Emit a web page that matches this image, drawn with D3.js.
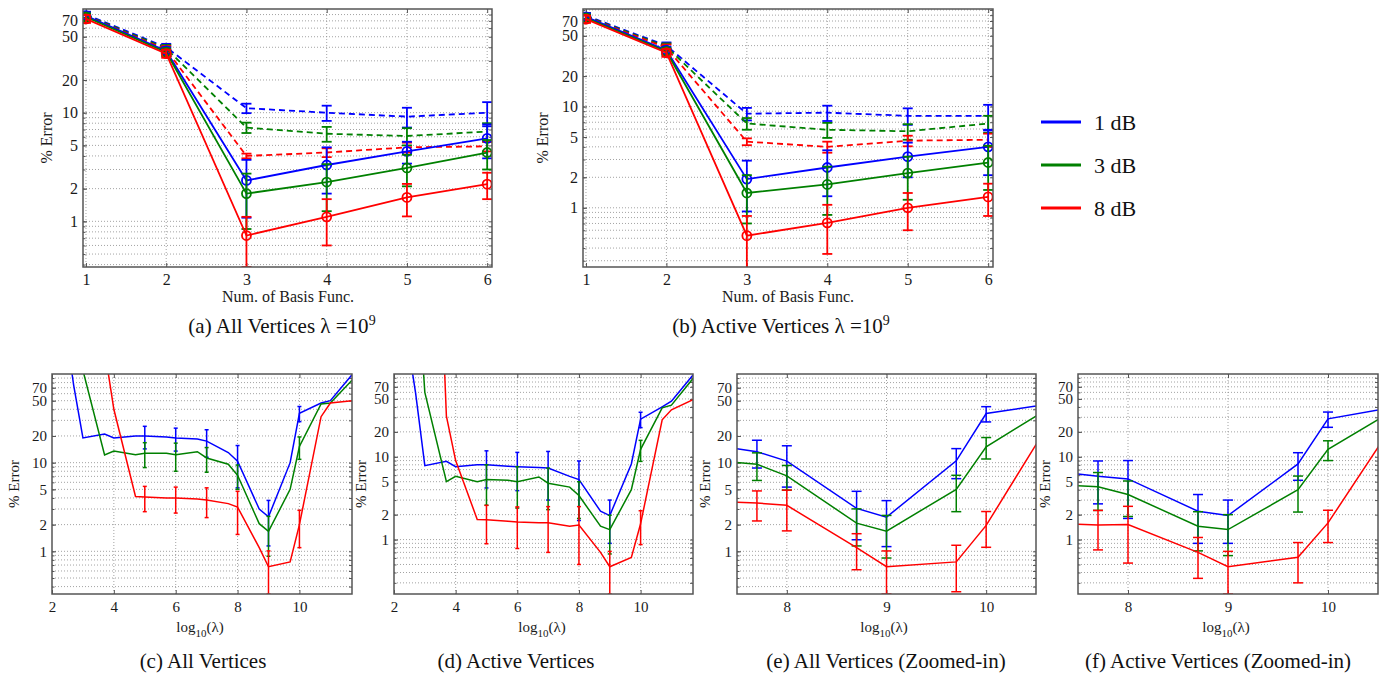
<!DOCTYPE html>
<html>
<head>
<meta charset="utf-8">
<script src="https://cdn.jsdelivr.net/npm/d3@7/dist/d3.min.js"></script>
<style>
  body { margin: 0; background: #fff; }
  svg, svg text { font-family: "Liberation Serif", "Times New Roman", serif; }
</style>
</head>
<body>
<svg id="fig" width="1391" height="676"></svg>
<script>
// ---- data ----
const snrLabels = ["1 dB", "3 dB", "8 dB"];
const yTickVals = [1, 2, 5, 10, 20, 50, 70];

// top row: error vs number of basis functions (solid / dashed), lambda = 1e9
const basisN = [1, 2, 3, 4, 5, 6];
const aBlue    = [78, 37, 2.38, 3.3, 4.4, 5.8];
const aBlueE   = [6, 3, 1.3, 1.5, 1.0, 2.0];
const aGreen   = [76, 36, 1.8, 2.3, 3.1, 4.3];
const aGreenE  = [6, 3, 0.95, 1.06, 1.0, 1.3];
const aRed     = [73, 35, 0.74, 1.1, 1.66, 2.2];
const aRedE    = [6, 3, 0.36, 0.5, 0.55, 0.6];
const aBlueD   = [80, 40, 11, 10, 9.2, 10];
const aBlueDE  = [5, 3, 1.1, 1.6, 1.9, 2.5];
const aGreenD  = [79, 39, 7.3, 6.4, 6.1, 6.7];
const aGreenDE = [5, 3, 0.8, 1.0, 1.1, 1.3];
const aRedD    = [78, 38, 4.0, 4.3, 4.8, 4.9];
const aRedDE   = [5, 3, 0.2, 0.4, 0.5, 0.5];

const bBlue    = [77, 36, 1.92, 2.5, 3.2, 4.0];
const bBlueE   = [6, 3, 1.0, 1.2, 1.2, 1.9];
const bGreen   = [75, 35, 1.4, 1.7, 2.2, 2.8];
const bGreenE  = [6, 3, 0.7, 0.85, 1.0, 1.3];
const bRed     = [73, 34, 0.53, 0.71, 1.0, 1.28];
const bRedE    = [6, 3, 0.3, 0.36, 0.4, 0.45];
const bBlueD   = [79, 40, 8.5, 8.7, 8.1, 8.1];
const bBlueDE  = [5, 3, 1.2, 1.5, 1.5, 2.3];
const bGreenD  = [78, 39, 6.8, 5.9, 5.7, 6.8];
const bGreenDE = [5, 3, 0.9, 1.0, 1.0, 1.3];
const bRedD    = [77, 38, 4.5, 4.0, 4.6, 4.7];
const bRedDE   = [5, 3, 0.35, 0.5, 0.55, 0.7];

// bottom row: error vs log10(lambda)
const lamAll = [2, 2.7, 3, 3.7, 4, 4.7, 5, 5.7, 6, 6.7, 7, 7.7, 8, 8.7, 9, 9.7, 10, 10.7, 11, 11.7];
const errLam = [5, 6, 7, 8, 9, 10];
const cBlue  = [4000, 75, 19, 21, 19, 20, 20, 19.5, 19, 18.5, 17.5, 13, 10.4, 3, 2.45, 10, 36, 47, 50, 98];
const cGreen = [1e5, 3000, 110, 12.2, 13.5, 12.3, 12.8, 12.8, 12.3, 13.3, 11.3, 9.6, 7.2, 2.05, 1.68, 5.0, 15.2, 46, 47, 85];
const cRed   = [1e10, 1e9, 1e4, 190, 40, 4.15, 4.1, 4.0, 4.0, 3.9, 3.8, 3.45, 3.15, 1.1, 0.67, 0.76, 2.0, 33, 47, 50];
const cBlueE  = [5.7, 5.5, 6, 5.2, 1.3, 7];
const cGreenE = [4, 4.3, 3.5, 2.2, 0.8, 4.3];
const cRedE   = [1.3, 1.3, 1.4, 1.6, 0.34, 0.9];

const dBlue  = [3000, 59, 7.8, 8.8, 7.6, 8.0, 8.0, 7.7, 7.6, 7.4, 7.3, 5.8, 5.3, 2.2, 1.95, 8.2, 28.5, 40, 47, 97];
const dGreen = [1e5, 3000, 60, 5.0, 5.8, 5.0, 5.3, 5.2, 5.0, 5.7, 4.8, 4.3, 3.4, 1.45, 1.32, 4.0, 12.3, 39, 42, 88];
const dRed   = [1e10, 1e9, 1e8, 31, 9, 1.75, 1.74, 1.66, 1.63, 1.6, 1.6, 1.45, 1.5, 0.7, 0.47, 0.61, 1.55, 28, 37, 49];
const dBlueE  = [3.8, 3.7, 4.3, 3.6, 1.05, 6];
const dGreenE = [2.7, 2.6, 2.5, 1.6, 0.65, 3.5];
const dRedE   = [0.85, 0.85, 0.9, 1.0, 0.25, 0.68];

const lamZoom = [7, 7.7, 8, 8.7, 9, 9.7, 10, 10.7];
const errLamZoom = [7.7, 8, 8.7, 9, 9.7, 10];
const eBlue  = [17.5, 13.3, 10.4, 3.05, 2.43, 10.5, 35.8, 47];
const eGreen = [11.3, 9.6, 7.1, 2.08, 1.69, 5.0, 15.1, 46];
const eRed   = [3.8, 3.5, 3.3, 1.1, 0.67, 0.76, 1.96, 37];
const eBlueE  = [4.6, 5.1, 1.7, 1.3, 3.9, 7];
const eGreenE = [3.3, 2.2, 0.93, 0.85, 2.2, 4.1];
const eRedE   = [1.3, 1.6, 0.48, 0.34, 0.41, 0.85];

const fBlue  = [7.3, 5.8, 5.4, 2.2, 1.95, 8.2, 28.7, 40.6];
const fGreen = [4.8, 4.35, 3.5, 1.45, 1.32, 4.0, 12.3, 39];
const fRed   = [1.6, 1.5, 1.52, 0.7, 0.47, 0.61, 1.59, 30];
const fBlueE  = [3.1, 3.6, 1.3, 1.05, 3.0, 6];
const fGreenE = [2.1, 1.6, 0.72, 0.68, 1.85, 3.3];
const fRedE   = [0.75, 1.0, 0.36, 0.25, 0.31, 0.67];

// ---- drawing ----
const SERIF = "Liberation Serif, Times New Roman, serif";
const BLUE = "#0000ff", GREEN = "#008000", RED = "#ff0000";
const colors = [BLUE, GREEN, RED];
const svg = d3.select("#fig").attr("font-family", SERIF);

function panel(p) {
  const x = d3.scaleLinear().domain(p.xDom).range([p.left, p.right]);
  const y = d3.scaleLog().domain(p.yDom).range([p.bottom, p.top]);
  const g = svg.append("g").attr("font-family", SERIF);
  const cid = "clip-" + p.name;
  g.append("clipPath").attr("id", cid).append("rect")
    .attr("x", p.left).attr("y", p.top)
    .attr("width", p.right - p.left).attr("height", p.bottom - p.top);

  // minor values 1..9 x 10^k inside the domain
  const minor = [];
  [0.1, 1, 10].forEach(k => d3.range(1, 10).forEach(m => {
    const v = +(m * k).toPrecision(3);
    if (v > p.yDom[0] && v < p.yDom[1]) minor.push(v);
  }));

  // dotted grid
  g.append("g").selectAll("line").data(minor).join("line")
    .attr("x1", p.left).attr("x2", p.right)
    .attr("y1", d => y(d)).attr("y2", d => y(d))
    .attr("stroke", "#8c8c8c").attr("stroke-width", 0.8).attr("stroke-dasharray", "1,2");
  g.append("g").selectAll("line")
    .data(p.xTicks.filter(t => x(t) > p.left + 1 && x(t) < p.right - 1)).join("line")
    .attr("x1", d => x(d)).attr("x2", d => x(d))
    .attr("y1", p.top).attr("y2", p.bottom)
    .attr("stroke", "#8c8c8c").attr("stroke-width", 0.8).attr("stroke-dasharray", "1,2");

  // axes with inward ticks
  const yAx = g.append("g").attr("transform", `translate(${p.left},0)`)
    .call(d3.axisLeft(y).tickValues(yTickVals).tickFormat(d3.format("d")).tickSize(-4).tickPadding(5));
  const yMin = g.append("g").attr("transform", `translate(${p.left},0)`)
    .call(d3.axisLeft(y).tickValues(minor).tickFormat("").tickSize(-2.5));
  const yR = g.append("g").attr("transform", `translate(${p.right},0)`)
    .call(d3.axisRight(y).tickValues(minor).tickFormat("").tickSize(-3));
  const xAx = g.append("g").attr("transform", `translate(0,${p.bottom})`)
    .call(d3.axisBottom(x).tickValues(p.xTicks).tickFormat(d3.format("d")).tickSize(-4).tickPadding(7));
  const xTop = g.append("g").attr("transform", `translate(0,${p.top})`)
    .call(d3.axisTop(x).tickValues(p.xTicks).tickFormat("").tickSize(-4));
  [yAx, yMin, yR, xAx, xTop].forEach(a => {
    a.select(".domain").remove();
    a.attr("font-family", SERIF).attr("font-size", p.fs);
    a.selectAll("line").attr("stroke", "#555");
    a.selectAll("text").attr("fill", "#1a1a1a");
  });

  // series
  const plot = g.append("g").attr("clip-path", `url(#${cid})`);
  p.series.forEach(s => {
    plot.append("path").datum(d3.zip(p.xs, s.vals))
      .attr("fill", "none").attr("stroke", s.color).attr("stroke-width", p.lw)
      .attr("stroke-dasharray", s.dash ? "6,4" : null)
      .attr("d", d3.line().x(d => x(d[0])).y(d => y(d[1])));
    const bars = p.errX.map((xv, i) => {
      const m = s.vals[p.xs.indexOf(xv)];
      return { x: xv, m: m, lo: Math.max(m - s.err[i], 1e-3), hi: m + s.err[i] };
    });
    const eb = plot.append("g").attr("stroke", s.color).attr("stroke-width", p.lw).attr("fill", "none");
    eb.selectAll(".v").data(bars).join("line")
      .attr("x1", d => x(d.x)).attr("x2", d => x(d.x))
      .attr("y1", d => y(d.lo)).attr("y2", d => y(d.hi));
    ["lo", "hi"].forEach(k => {
      eb.selectAll(".c" + k).data(bars).join("line")
        .attr("x1", d => x(d.x) - p.cap / 2).attr("x2", d => x(d.x) + p.cap / 2)
        .attr("y1", d => y(d[k])).attr("y2", d => y(d[k]));
    });
    if (s.marker) {
      eb.selectAll("circle").data(bars).join("circle")
        .attr("cx", d => x(d.x)).attr("cy", d => y(d.m)).attr("r", 4.5);
    }
  });

  // frame
  g.append("rect").attr("x", p.left).attr("y", p.top)
    .attr("width", p.right - p.left).attr("height", p.bottom - p.top)
    .attr("fill", "none").attr("stroke", "#555").attr("stroke-width", 1.5);

  // y label
  g.append("text")
    .attr("transform", `translate(${p.ylx},${(p.top + p.bottom) / 2}) rotate(-90)`)
    .attr("text-anchor", "middle").attr("font-size", p.fs).attr("fill", "#1a1a1a")
    .text("% Error");

  // x label
  const xl = g.append("text").attr("x", p.xlx).attr("y", p.xly)
    .attr("text-anchor", "middle").attr("font-size", p.fs).attr("fill", "#1a1a1a");
  if (p.xlabel) {
    xl.text(p.xlabel);
  } else {
    xl.append("tspan").text("log");
    xl.append("tspan").attr("dy", 5).attr("font-size", p.fs - 4).text("10");
    xl.append("tspan").attr("dy", -5).text("(λ)");
  }

  // caption
  const cap = g.append("text").attr("x", p.capx).attr("y", p.capy)
    .attr("text-anchor", "middle").attr("font-size", 21).attr("fill", "#111");
  cap.append("tspan").text(p.caption);
  if (p.capSup) {
    cap.append("tspan").attr("dy", -8).attr("font-size", 14).text(p.capSup);
  }
}

function topSeries(sb, sbe, sg, sge, sr, sre, db, dbe, dg, dge, dr, dre) {
  return [
    { vals: db, err: dbe, color: BLUE, dash: true },
    { vals: dg, err: dge, color: GREEN, dash: true },
    { vals: dr, err: dre, color: RED, dash: true },
    { vals: sb, err: sbe, color: BLUE, marker: true },
    { vals: sg, err: sge, color: GREEN, marker: true },
    { vals: sr, err: sre, color: RED, marker: true }
  ];
}
function bottomSeries(b, be, gr, ge, r, re) {
  return [
    { vals: b, err: be, color: BLUE },
    { vals: gr, err: ge, color: GREEN },
    { vals: r, err: re, color: RED }
  ];
}

const topCommon = {
  top: 9, bottom: 267, xDom: [0.963, 6.06], xTicks: basisN, xs: basisN, errX: basisN,
  fs: 16, lw: 1.8, cap: 10, xlabel: "Num. of Basis Func.", xly: 302, capy: 333
};
panel(Object.assign({}, topCommon, {
  name: "a", left: 83, right: 492, yDom: [0.38, 90], ylx: 52, xlx: 288,
  capx: 282, caption: "(a) All Vertices λ =10", capSup: "9",
  series: topSeries(aBlue, aBlueE, aGreen, aGreenE, aRed, aRedE, aBlueD, aBlueDE, aGreenD, aGreenDE, aRedD, aRedDE)
}));
panel(Object.assign({}, topCommon, {
  name: "b", left: 583, right: 993, yDom: [0.26, 92], ylx: 548, xlx: 788,
  capx: 781, caption: "(b) Active Vertices λ =10", capSup: "9",
  series: topSeries(bBlue, bBlueE, bGreen, bGreenE, bRed, bRedE, bBlueD, bBlueDE, bGreenD, bGreenDE, bRedD, bRedDE)
}));

const botCommon = { top: 374, bottom: 594, fs: 15, lw: 1.5, xly: 632, capy: 668 };
panel(Object.assign({}, botCommon, {
  name: "c", left: 52, right: 352, xDom: [2, 11.7], yDom: [0.33, 100], xTicks: [2, 4, 6, 8, 10],
  xs: lamAll, errX: errLam, cap: 4, ylx: 19, xlx: 200, capx: 203, caption: "(c) All Vertices",
  series: bottomSeries(cBlue, cBlueE, cGreen, cGreenE, cRed, cRedE)
}));
panel(Object.assign({}, botCommon, {
  name: "d", left: 394, right: 693, xDom: [2, 11.7], yDom: [0.22, 100], xTicks: [2, 4, 6, 8, 10],
  xs: lamAll, errX: errLam, cap: 4, ylx: 366, xlx: 542, capx: 516, caption: "(d) Active Vertices",
  series: bottomSeries(dBlue, dBlueE, dGreen, dGreenE, dRed, dRedE)
}));
panel(Object.assign({}, botCommon, {
  name: "e", left: 737, right: 1036, xDom: [7.5, 10.5], yDom: [0.33, 100], xTicks: [8, 9, 10],
  xs: lamZoom, errX: errLamZoom, cap: 10, ylx: 710, xlx: 884, capx: 886, caption: "(e) All Vertices (Zoomed-in)",
  series: bottomSeries(eBlue, eBlueE, eGreen, eGreenE, eRed, eRedE)
}));
panel(Object.assign({}, botCommon, {
  name: "f", left: 1078, right: 1378, xDom: [7.5, 10.5], yDom: [0.22, 100], xTicks: [8, 9, 10],
  xs: lamZoom, errX: errLamZoom, cap: 10, ylx: 1050, xlx: 1226, capx: 1218, caption: "(f) Active Vertices (Zoomed-in)",
  series: bottomSeries(fBlue, fBlueE, fGreen, fGreenE, fRed, fRedE)
}));

// legend
const legY = d3.scalePoint().domain(snrLabels).range([122, 208]);
const leg = svg.append("g");
leg.selectAll("line").data(snrLabels).join("line")
  .attr("x1", 1041).attr("x2", 1081)
  .attr("y1", d => legY(d)).attr("y2", d => legY(d))
  .attr("stroke", (d, i) => colors[i]).attr("stroke-width", 3);
leg.selectAll("text").data(snrLabels).join("text")
  .attr("x", 1094).attr("y", d => legY(d)).attr("dy", "0.35em")
  .attr("font-size", 22).attr("fill", "#111")
  .text(d => d);
</script>
</body>
</html>
